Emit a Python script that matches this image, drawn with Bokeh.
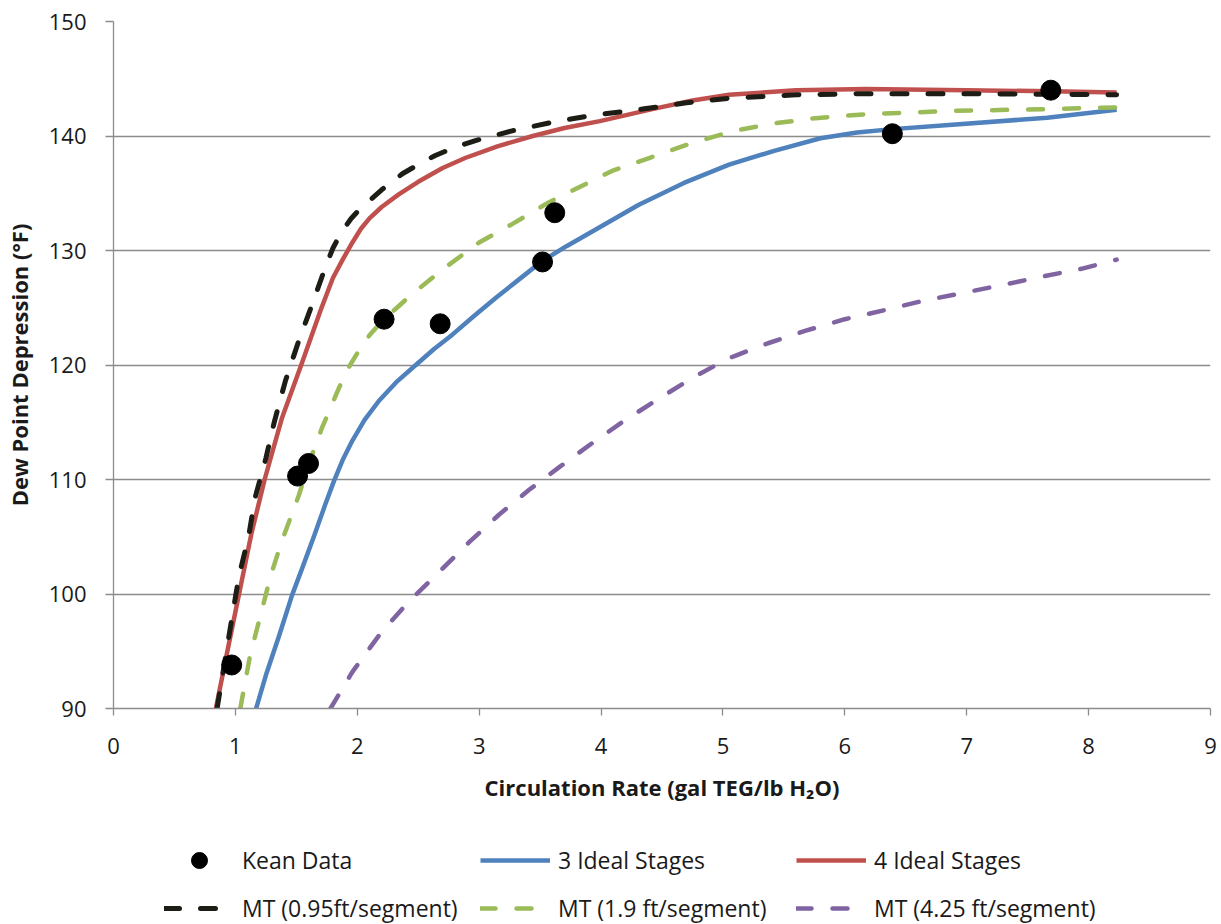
from bokeh.plotting import figure
from bokeh.layouts import column
from bokeh.models import Legend, LegendItem, FixedTicker
from bokeh.embed import file_html
from bokeh.resources import INLINE

# Kean experimental data
kean_x = [0.97, 1.51, 1.60, 2.22, 2.68, 3.52, 3.62, 6.39, 7.69]
kean_y = [93.8, 110.3, 111.4, 124.0, 123.6, 129.0, 133.3, 140.2, 144.0]

# 3 ideal stages
stage3_x = [1.17, 1.25, 1.36, 1.465, 1.55, 1.65, 1.74, 1.81, 1.88, 1.96, 2.06, 2.18, 2.32, 2.48,
            2.63, 2.78, 2.96, 3.14, 3.33, 3.52, 3.72, 3.935, 4.31, 4.68, 5.05, 5.42, 5.80, 6.10,
            6.39, 6.91, 7.66, 8.23]
stage3_y = [90.0, 92.9, 96.4, 99.9, 102.3, 105.2, 107.9, 109.9, 111.7, 113.4, 115.2, 116.9, 118.5, 120.0,
            121.4, 122.65, 124.3, 125.9, 127.5, 129.1, 130.4, 131.7, 134.0, 135.9, 137.5, 138.7, 139.8, 140.3,
            140.6, 141.0, 141.6, 142.3]

# 4 ideal stages
stage4_x = [0.84, 0.94, 1.03, 1.13, 1.24, 1.38, 1.54, 1.70, 1.80, 1.88, 1.96, 2.03, 2.10, 2.20,
            2.34, 2.50, 2.70, 2.89, 3.15, 3.44, 3.70, 3.99, 4.42, 4.75, 5.05, 5.60, 6.17, 7.00,
            7.70, 8.23]
stage4_y = [90.0, 95.3, 100.0, 105.2, 110.0, 115.3, 120.0, 124.8, 127.6, 129.2, 130.7, 131.9, 132.8, 133.8,
            134.9, 136.0, 137.2, 138.1, 139.1, 140.0, 140.7, 141.3, 142.35, 143.1, 143.6, 144.0, 144.1, 144.0,
            143.9, 143.8]

# MT (0.95 ft/segment)
mt095_x = [0.85, 0.97, 1.03, 1.11, 1.16, 1.25, 1.32, 1.41, 1.51, 1.63, 1.74, 1.80, 1.87, 1.95,
           2.02, 2.20, 2.37, 2.50, 2.64, 2.80, 2.97, 3.27, 3.60, 3.93, 4.34, 4.70, 5.05, 5.60,
           6.17, 7.00, 8.23]
mt095_y = [90.0, 97.8, 101.6, 105.1, 108.35, 111.85, 115.06, 118.6, 121.8, 125.3, 128.6, 130.2, 131.6, 132.8,
           133.6, 135.3, 136.7, 137.5, 138.3, 139.0, 139.6, 140.45, 141.2, 141.8, 142.35, 142.9, 143.3, 143.6,
           143.7, 143.7, 143.6]

# MT (1.9 ft/segment)
mt19_x = [1.04, 1.12, 1.205, 1.29, 1.38, 1.52, 1.60, 1.71, 1.85, 1.93, 2.01, 2.10, 2.20, 2.45,
          2.72, 3.00, 3.27, 3.57, 4.09, 4.40, 4.75, 5.09, 5.42, 5.76, 6.17, 6.91, 7.66, 8.23]
mt19_y = [90.0, 94.6, 98.1, 101.6, 104.6, 108.6, 111.3, 114.5, 118.0, 119.8, 121.2, 122.6, 123.8, 126.2,
          128.5, 130.7, 132.3, 134.2, 136.95, 138.1, 139.4, 140.45, 141.1, 141.56, 141.9, 142.2, 142.35, 142.5]

# MT (4.25 ft/segment)
mt425_x = [1.78, 1.96, 2.20, 2.42, 2.67, 2.92, 3.16, 3.41, 3.66, 3.93, 4.20, 4.48, 4.77, 5.05,
           5.37, 5.68, 6.00, 6.33, 6.64, 6.97, 7.30, 7.61, 7.94, 8.23]
mt425_y = [90.0, 93.2, 96.7, 99.3, 101.9, 104.55, 106.9, 109.1, 111.1, 113.2, 115.2, 117.1, 119.0, 120.6,
           121.9, 123.0, 124.0, 124.8, 125.6, 126.3, 127.0, 127.7, 128.4, 129.2]

series_labels = ["Kean Data", "3 Ideal Stages", "4 Ideal Stages",
                 "MT (0.95ft/segment)", "MT (1.9 ft/segment)", "MT (4.25 ft/segment)"]

x_ticks = [0, 1, 2, 3, 4, 5, 6, 7, 8, 9]
y_ticks = [90, 100, 110, 120, 130, 140, 150]

FONT = "Open Sans"
TXT = "#1a1a1a"
GRID = "#8c8c8c"
C_BLUE, C_RED, C_GREEN, C_PURPLE, C_BLACK = "#4F81BD", "#C0504D", "#9BBB59", "#8064A2", "#1d1d16"
DASH = "15 21"
W = 4.5


def draw_series(fig):
    rk = fig.scatter(kean_x, kean_y, size=20, fill_color="black", line_color="black", marker="circle")
    r3 = fig.line(stage3_x, stage3_y, line_color=C_BLUE, line_width=W, line_join="round")
    r4 = fig.line(stage4_x, stage4_y, line_color=C_RED, line_width=W, line_join="round")
    r19 = fig.line(mt19_x, mt19_y, line_color=C_GREEN, line_width=W, line_dash=DASH, line_cap="round")
    r425 = fig.line(mt425_x, mt425_y, line_color=C_PURPLE, line_width=W, line_dash=DASH, line_cap="round")
    r095 = fig.line(mt095_x, mt095_y, line_color=C_BLACK, line_width=5, line_dash=DASH, line_cap="round")
    # put the markers on top
    fig.renderers.remove(rk)
    fig.renderers.append(rk)
    return [rk, r3, r4, r095, r19, r425]


# ---------------- main chart ----------------
p = figure(width=1221, height=810, x_range=(0, 9), y_range=(90, 150),
           output_backend="svg", toolbar_location=None,
           min_border_left=112, min_border_top=21, min_border_right=11, min_border_bottom=102)
p.outline_line_color = None
p.background_fill_color = "white"

p.xgrid.grid_line_color = None
p.ygrid.grid_line_color = GRID
p.ygrid.grid_line_width = 1.3

p.xaxis.ticker = FixedTicker(ticks=x_ticks)
p.yaxis.ticker = FixedTicker(ticks=y_ticks)
for ax in (p.xaxis[0], p.yaxis[0]):
    ax.axis_line_color = GRID
    ax.axis_line_width = 1.3
    ax.major_tick_line_color = GRID
    ax.major_tick_line_width = 1.3
    ax.major_tick_in = 0
    ax.minor_tick_line_color = None
    ax.major_label_text_font = FONT
    ax.major_label_text_font_size = "22px"
    ax.major_label_text_color = TXT
    ax.axis_label_text_font = FONT
    ax.axis_label_text_font_style = "bold"
    ax.axis_label_text_font_size = "22px"
    ax.axis_label_text_color = TXT

p.xaxis.major_tick_out = 7
p.yaxis.major_tick_out = 8
p.xaxis.major_label_standoff = 22
p.yaxis.major_label_standoff = 19
p.xaxis.axis_label = "Circulation Rate (gal TEG/lb H\u2082O)"
p.yaxis.axis_label = "Dew Point Depression (\u00b0F)"
p.xaxis.axis_label_standoff = 15
p.yaxis.axis_label_standoff = 12

draw_series(p)

# ---------------- legend strip ----------------
# same series drawn in a strip whose y range excludes the data, so only the legend shows
lg = figure(width=1221, height=114, x_range=(0, 9), y_range=(0, 1),
            output_backend="svg", toolbar_location=None,
            x_axis_location=None, y_axis_location=None, min_border=0)
lg.outline_line_color = None
lg.xgrid.grid_line_color = None
lg.ygrid.grid_line_color = None

legend_renderers = draw_series(lg)

items = [LegendItem(label=lab, renderers=[r])
         for lab, r in zip(series_labels, legend_renderers)]
legend = Legend(items=items, orientation="horizontal", ncols=3,
                location=(51, -4), padding=0, margin=0, spacing=8,
                glyph_width=70, glyph_height=40, label_standoff=8, label_width=230,
                label_text_font=FONT, label_text_font_size="23px", label_text_color=TXT,
                border_line_color=None, background_fill_alpha=0)
lg.add_layout(legend, "center")

layout = column(p, lg, spacing=0)
open("out.html", "w").write(file_html(layout, INLINE))
